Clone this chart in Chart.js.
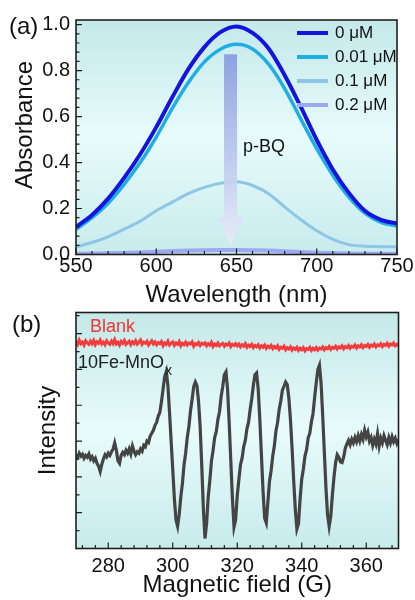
<!DOCTYPE html>
<html><head><meta charset="utf-8">
<script src="https://cdn.jsdelivr.net/npm/chart.js@4.4.0/dist/chart.umd.min.js"></script>
<style>
html,body{margin:0;padding:0;background:#fff;width:415px;height:600px;overflow:hidden;}
#ca{position:absolute;left:0;top:0;}
#cb{position:absolute;left:0;top:300px;}
</style></head><body>
<canvas id="ca" width="415" height="315"></canvas>
<canvas id="cb" width="415" height="300"></canvas>
<script>
const FONT = "'Liberation Sans', Arial, Helvetica, sans-serif";

// ---------- Panel (a) data ----------
const wavelengths = [550,560,570,580,590,600,610,620,630,640,650,660,670,680,690,700,710,720,730,740,750];
const abs0uM   = [0.12,0.172,0.243,0.333,0.436,0.554,0.684,0.806,0.902,0.967,0.992,0.964,0.896,0.78,0.643,0.498,0.37,0.268,0.19,0.151,0.135];
const abs001uM = [0.109,0.16,0.223,0.305,0.40,0.511,0.636,0.748,0.838,0.893,0.914,0.894,0.828,0.722,0.59,0.46,0.345,0.25,0.18,0.14,0.123];
const abs01uM  = [0.033,0.052,0.077,0.11,0.145,0.19,0.228,0.265,0.292,0.31,0.316,0.30,0.264,0.207,0.152,0.103,0.066,0.043,0.036,0.034,0.033];
const abs02uM  = [0.003,0.004,0.005,0.007,0.009,0.012,0.015,0.017,0.019,0.02,0.02,0.019,0.017,0.014,0.011,0.008,0.006,0.004,0.003,0.003,0.003];
const concLabels = ['0 \u03BCM','0.01 \u03BCM','0.1 \u03BCM','0.2 \u03BCM'];
const concColors = ['#1414dc','#1eaee2','#8ec6e6','#9ca8f2'];
const concWidths = [4,3.5,3,4];
const wlTicks = [550,600,650,700,750];
const absTicks = [0,0.2,0.4,0.6,0.8,1.0];

// ---------- Panel (b) data ----------
const fieldStart = 270, fieldStep = 0.5;
const eprSample = [
 2.62,2.55,2.66,2.58,2.63,2.52,2.60,2.55,2.64,2.50,2.56,2.45,2.52,2.38,2.30,2.15,2.35,2.50,2.62,2.56,
 2.66,2.60,2.70,2.78,2.95,2.75,2.45,2.38,2.60,2.68,2.62,2.74,2.66,2.78,2.64,2.86,2.72,2.62,2.70,2.66,
 2.78,2.72,2.88,2.84,3.00,2.96,3.14,3.22,3.30,3.44,3.52,3.70,3.80,4.10,4.45,4.80,4.94,4.55,3.80,3.00,
 2.20,1.40,0.80,0.62,0.95,1.45,1.82,2.34,2.66,3.10,3.40,3.84,4.16,4.52,4.65,4.55,4.10,3.40,2.30,1.10,
 0.28,0.70,1.44,1.90,2.44,2.74,3.10,3.26,3.60,3.82,4.24,4.52,4.85,4.93,4.45,3.50,2.45,1.40,0.60,0.80,
 1.48,1.92,2.34,2.52,2.84,3.02,3.34,3.52,3.88,4.18,4.56,4.85,4.90,4.45,3.60,2.60,1.60,0.85,0.72,1.30,
 1.88,2.17,2.58,2.86,3.28,3.52,3.88,4.12,4.42,4.53,4.65,4.58,4.20,3.60,2.80,1.90,1.10,0.55,0.70,1.40,
 1.94,2.22,2.58,2.76,3.09,3.22,3.54,3.77,4.22,4.63,5.00,5.12,4.60,3.70,2.70,1.70,0.95,0.62,0.90,1.50,
 2.00,2.40,2.62,2.55,2.42,2.40,2.55,2.80,2.92,3.02,2.90,3.05,2.95,3.10,2.98,3.15,3.00,3.18,3.05,3.30,
 3.12,3.25,3.00,3.10,2.88,3.05,2.92,3.20,2.86,3.08,2.95,3.15,3.02,2.90,3.10,2.95,3.12,2.98,3.08,2.94,
 3.05];
const eprBlank = [
 5.78,5.70,5.82,5.72,5.76,5.68,5.80,5.74,5.70,5.79,5.72,5.81,5.69,5.77,5.73,5.82,5.71,5.76,5.69,5.80,
 5.74,5.70,5.79,5.72,5.83,5.71,5.76,5.68,5.78,5.73,5.81,5.70,5.75,5.79,5.69,5.77,5.72,5.80,5.71,5.76,
 5.82,5.70,5.76,5.73,5.79,5.68,5.74,5.80,5.71,5.77,5.69,5.75,5.72,5.78,5.66,5.74,5.70,5.79,5.68,5.73,
 5.77,5.67,5.74,5.70,5.78,5.66,5.73,5.69,5.76,5.68,5.74,5.71,5.77,5.65,5.72,5.69,5.75,5.67,5.73,5.70,
 5.74,5.66,5.72,5.68,5.76,5.64,5.71,5.67,5.74,5.66,5.70,5.73,5.65,5.71,5.68,5.74,5.64,5.70,5.67,5.72,
 5.66,5.71,5.63,5.69,5.65,5.72,5.62,5.68,5.64,5.70,5.61,5.67,5.63,5.69,5.60,5.66,5.62,5.68,5.59,5.65,
 5.61,5.67,5.58,5.64,5.60,5.66,5.56,5.62,5.59,5.65,5.55,5.61,5.57,5.63,5.54,5.60,5.56,5.62,5.53,5.59,
 5.55,5.61,5.52,5.58,5.56,5.62,5.53,5.59,5.55,5.61,5.54,5.60,5.57,5.63,5.55,5.61,5.58,5.64,5.56,5.62,
 5.59,5.65,5.57,5.63,5.60,5.66,5.58,5.64,5.61,5.67,5.59,5.65,5.62,5.68,5.60,5.66,5.63,5.69,5.61,5.67,
 5.64,5.70,5.62,5.68,5.65,5.71,5.63,5.69,5.66,5.72,5.64,5.70,5.67,5.73,5.65,5.71,5.68,5.74,5.66,5.70,
 5.68];
const fieldTicks = [280,300,320,340,360];
const intensityTicks = [0,1,2,3,4,5,6];

// ---------- annotation (arrow) in data units ----------
const arrowSpec = {x: 646.3, top: 0.871, headBase: 0.162, tip: 0.04};

// ---------- plugins ----------
const bgPlugin = {
  id: 'bg',
  beforeDatasetsDraw(chart) {
    const {ctx, chartArea: a} = chart;
    const g = ctx.createLinearGradient(0, a.top, 0, a.bottom);
    g.addColorStop(0, '#c4e8e9');
    g.addColorStop(0.5, '#e8fbfb');
    g.addColorStop(1, '#c8ebec');
    ctx.save(); ctx.fillStyle = g; ctx.fillRect(a.left, a.top, a.width, a.height); ctx.restore();
  }
};

const framePlugin = {
  id: 'frame',
  afterDraw(chart, args, o) {
    const {ctx, chartArea: a, scales: {x, y}} = chart;
    ctx.save();
    ctx.strokeStyle = '#1e1e1e';
    ctx.lineWidth = 1.2;
    ctx.beginPath();
    x.ticks.forEach(t => { const p = x.getPixelForValue(t.value); ctx.moveTo(p, a.bottom); ctx.lineTo(p, a.bottom - 6); });
    const nx = Math.floor((x.max - o.xMinorFrom) / o.xMinor + 1e-6);
    for (let i = 0; i <= nx; i++) { const p = x.getPixelForValue(o.xMinorFrom + i * o.xMinor); ctx.moveTo(p, a.bottom); ctx.lineTo(p, a.bottom - 3.5); }
    y.ticks.forEach(t => { const p = y.getPixelForValue(t.value); ctx.moveTo(a.left, p); ctx.lineTo(a.left + 6, p); });
    const ny = Math.floor((y.max - o.yMinorFrom) / o.yMinor + 1e-6);
    for (let i = 0; i <= ny; i++) { const p = y.getPixelForValue(o.yMinorFrom + i * o.yMinor); ctx.moveTo(a.left, p); ctx.lineTo(a.left + 3.5, p); }
    ctx.stroke();
    ctx.lineWidth = 1.6;
    ctx.strokeRect(a.left, a.top, a.width, a.height);
    ctx.restore();
  }
};

const arrowPlugin = {
  id: 'pbqArrow',
  afterDatasetsDraw(chart) {
    const {ctx, scales: {x, y}} = chart;
    const cx = x.getPixelForValue(arrowSpec.x);
    const yTop = y.getPixelForValue(arrowSpec.top);
    const yBase = y.getPixelForValue(arrowSpec.headBase);
    const yTip = y.getPixelForValue(arrowSpec.tip);
    const g = ctx.createLinearGradient(0, yTop, 0, yTip);
    g.addColorStop(0, 'rgba(138,158,224,0.95)');
    g.addColorStop(0.5, 'rgba(184,196,236,0.92)');
    g.addColorStop(1, 'rgba(232,236,250,0.92)');
    ctx.save();
    ctx.fillStyle = g;
    ctx.beginPath();
    ctx.moveTo(cx - 6.5, yTop); ctx.lineTo(cx + 6.5, yTop); ctx.lineTo(cx + 6.5, yBase);
    ctx.lineTo(cx + 12.5, yBase); ctx.lineTo(cx, yTip); ctx.lineTo(cx - 12.5, yBase);
    ctx.lineTo(cx - 6.5, yBase); ctx.closePath(); ctx.fill();
    ctx.restore();
  }
};

const decorA = {
  id: 'decorA',
  afterDraw(chart) {
    const {ctx} = chart;
    ctx.save();
    ctx.fillStyle = '#111';
    ctx.textBaseline = 'middle';
    ctx.textAlign = 'left';
    ctx.font = '24px ' + FONT;
    ctx.fillText('(a)', 9, 27);
    ctx.save(); ctx.translate(25, 125); ctx.rotate(-Math.PI / 2);
    ctx.textAlign = 'center'; ctx.fillText('Absorbance', 0, 0); ctx.restore();
    ctx.font = '18px ' + FONT;
    ctx.fillText('p-BQ', 243, 147);
    ctx.font = '17px ' + FONT;
    chart.data.datasets.forEach((d, i) => {
      const yy = 33 + i * 24;
      ctx.strokeStyle = d.borderColor; ctx.lineWidth = 4;
      ctx.beginPath(); ctx.moveTo(297, yy); ctx.lineTo(328, yy); ctx.stroke();
      ctx.fillStyle = '#111';
      ctx.fillText(d.label, 335, yy + 0.5);
    });
    ctx.restore();
  }
};

const decorB = {
  id: 'decorB',
  afterDraw(chart) {
    const {ctx} = chart;
    ctx.save();
    ctx.textBaseline = 'middle'; ctx.textAlign = 'left';
    ctx.fillStyle = '#111';
    ctx.font = '24px ' + FONT;
    ctx.fillText('(b)', 12, 25);
    ctx.fillStyle = '#ee3535';
    ctx.font = '18px ' + FONT;
    ctx.fillText('Blank', 90, 27);
    ctx.fillStyle = '#222';
    ctx.font = '18px ' + FONT;
    const main = '10Fe-MnO';
    ctx.fillText(main, 78, 63);
    const w = ctx.measureText(main).width;
    ctx.font = '14px ' + FONT;
    ctx.fillText('x', 78 + w + 1, 71);
    ctx.restore();
  }
};

const tickFont = {family: FONT, size: 20};
const titleFont = {family: FONT, size: 24};

// ---------- chart (a) ----------
const absSeries = [abs0uM, abs001uM, abs01uM, abs02uM];
new Chart(document.getElementById('ca'), {
  type: 'line',
  data: {
    datasets: absSeries.map((s, k) => ({
      label: concLabels[k],
      data: wavelengths.map((w, i) => ({x: w, y: s[i]})),
      borderColor: concColors[k],
      borderWidth: concWidths[k],
      pointRadius: 0,
      tension: 0.4,
      cubicInterpolationMode: 'monotone',
      fill: false
    }))
  },
  options: {
    responsive: false, animation: false, devicePixelRatio: 1,
    layout: {padding: {left: 0, right: 18, top: 20, bottom: 0}},
    plugins: {legend: {display: false}, tooltip: {enabled: false},
      frame: {xMinor: 10, xMinorFrom: 550, yMinor: 0.04, yMinorFrom: 0}},
    scales: {
      x: {
        type: 'linear', min: 550, max: 750,
        afterBuildTicks: s => { s.ticks = wlTicks.map(v => ({value: v})); },
        afterFit: s => { s.height = 60.5; },
        grid: {display: false, drawTicks: false}, border: {display: false},
        ticks: {padding: 0, maxRotation: 0, autoSkip: false, font: tickFont, color: '#111'},
        title: {display: true, text: 'Wavelength (nm)', font: titleFont, color: '#111', padding: {top: 0, bottom: 4.9}}
      },
      y: {
        type: 'linear', min: 0, max: 1.02,
        afterBuildTicks: s => { s.ticks = absTicks.map(v => ({value: v})); },
        afterFit: s => { s.width = 76; },
        grid: {display: false, drawTicks: false}, border: {display: false},
        ticks: {padding: 6, font: tickFont, color: '#111', callback: v => Number(v).toFixed(1)}
      }
    }
  },
  plugins: [bgPlugin, arrowPlugin, framePlugin, decorA]
});

// ---------- chart (b) ----------
new Chart(document.getElementById('cb'), {
  type: 'line',
  data: {
    datasets: [
      {label: 'Blank', data: eprBlank.map((v, i) => ({x: fieldStart + i * fieldStep, y: v})),
       borderColor: '#f03c3c', borderWidth: 3, pointRadius: 0, tension: 0, fill: false},
      {label: '10Fe-MnOx', data: eprSample.map((v, i) => ({x: fieldStart + i * fieldStep, y: v})),
       borderColor: '#444444', borderWidth: 3.2, pointRadius: 0, tension: 0, fill: false}
    ]
  },
  options: {
    responsive: false, animation: false, devicePixelRatio: 1,
    layout: {padding: {left: 0, right: 16.5, top: 12.5, bottom: 0}},
    plugins: {legend: {display: false}, tooltip: {enabled: false},
      frame: {xMinor: 4, xMinorFrom: 272, yMinor: 0.5, yMinorFrom: 0}},
    scales: {
      x: {
        type: 'linear', min: 270, max: 370,
        afterBuildTicks: s => { s.ticks = fieldTicks.map(v => ({value: v})); },
        afterFit: s => { s.height = 51.5; },
        grid: {display: false, drawTicks: false}, border: {display: false},
        ticks: {padding: 5.5, maxRotation: 0, autoSkip: false, font: tickFont, color: '#111'},
        title: {display: true, text: 'Magnetic field (G)', font: titleFont, color: '#111', padding: {top: 0, bottom: 0}}
      },
      y: {
        type: 'linear', min: 0, max: 6.59,
        afterBuildTicks: s => { s.ticks = intensityTicks.map(v => ({value: v})); },
        afterFit: s => { s.width = 76; },
        grid: {display: false, drawTicks: false}, border: {display: false},
        ticks: {display: false},
        title: {display: true, text: 'Intensity', font: titleFont, color: '#111', padding: {top: 34.3, bottom: 0}}
      }
    }
  },
  plugins: [bgPlugin, framePlugin, decorB]
});
</script>
</body></html>
